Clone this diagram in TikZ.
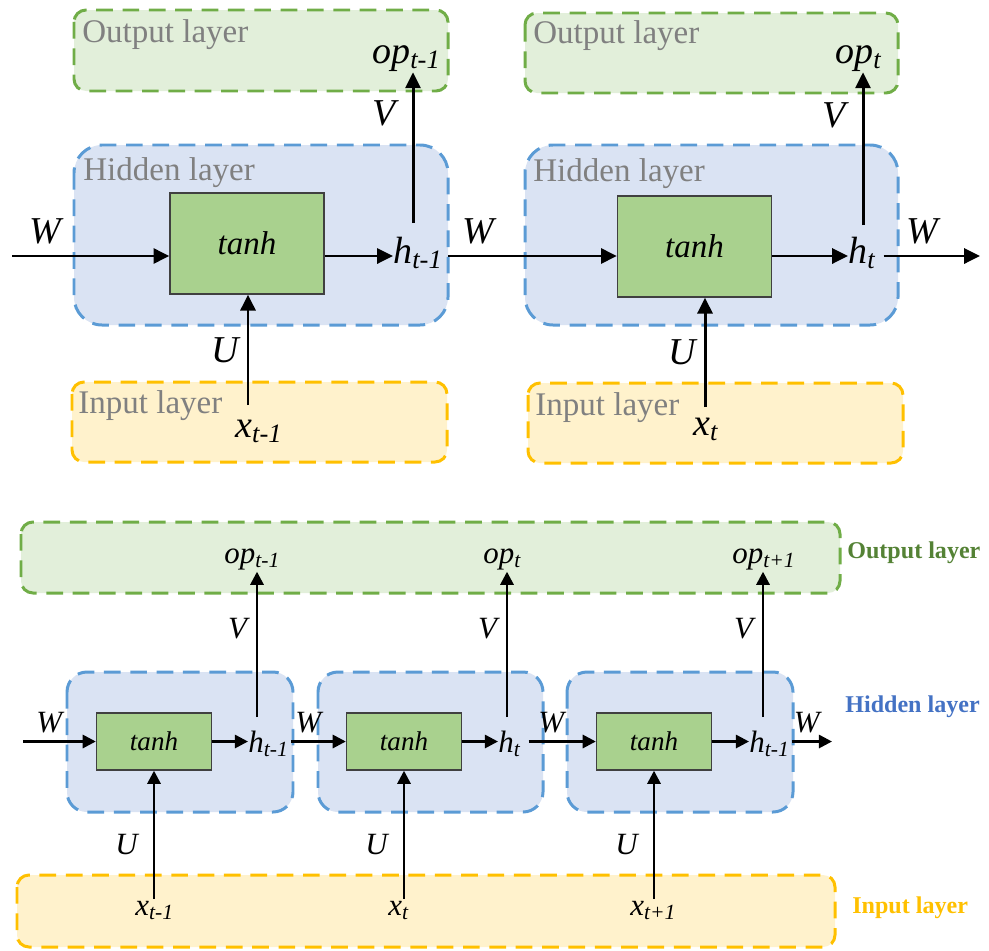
\documentclass[tikz,border=0pt]{standalone}
\usepackage{fontspec}
\setmainfont{Liberation Serif}
\usetikzlibrary{arrows.meta,positioning}
\definecolor{outfill}{HTML}{E2EFDA}
\definecolor{outdraw}{HTML}{70AD47}
\definecolor{hidfill}{HTML}{DAE3F3}
\definecolor{hiddraw}{HTML}{5B9BD5}
\definecolor{infill}{HTML}{FFF2CC}
\definecolor{indraw}{HTML}{FFC000}
\definecolor{tanhfill}{HTML}{A9D18E}
\definecolor{tanhdraw}{HTML}{404040}
\definecolor{graytxt}{HTML}{808080}
\definecolor{greentxt}{HTML}{548235}
\definecolor{bluetxt}{HTML}{4472C4}
\definecolor{yellowtxt}{HTML}{FFC000}
\newcommand\sub[2]{\textit{#1}\textsubscript{\textit{#2}}}
\newcommand\fs[1]{\fontsize{#1}{#1}\selectfont}
\begin{document}
\begin{tikzpicture}[x=0.02cm,y=-0.02cm,
  layer/.style={line width=1.7pt,dash pattern=on 9.5pt off 5.5pt},
  outlay/.style={layer,draw=outdraw,fill=outfill},
  hidlay/.style={layer,draw=hiddraw,fill=hidfill},
  inlay/.style={layer,draw=indraw,fill=infill},
  laytxt/.style={anchor=base west,text=graytxt,font=\fs{18.8},inner sep=0pt},
  boldtxt/.style={anchor=base west,font=\fs{13.7}\bfseries,inner sep=0pt},
  tanhbig/.style={draw=tanhdraw,fill=tanhfill,line width=0.8pt,minimum width=3.08cm,minimum height=2.02cm,font=\fs{18.8}\itshape,inner sep=0pt},
  tanhsmall/.style={draw=tanhdraw,fill=tanhfill,line width=0.8pt,minimum width=2.3cm,minimum height=1.14cm,font=\fs{15.4}\itshape,inner sep=0pt},
  var/.style={anchor=base west,font=\fs{21.6},inner xsep=0pt,inner ysep=0.5pt},
  svar/.style={anchor=base west,font=\fs{17.6},inner xsep=0pt,inner ysep=1pt},
  lbl/.style={font=\fs{21.6}\itshape,inner sep=1pt},
  slbl/.style={font=\fs{17.6}\itshape,inner sep=1pt},
  arr/.style={-{Triangle[length=9pt,width=8.5pt]},line width=1.7pt},
  arrs/.style={-{Triangle[length=7.5pt,width=7.5pt]},line width=1.5pt}]
\useasboundingbox (0,0) rectangle (989,950);
% top: two unrolled steps
\draw[outlay,rounded corners=0.24cm] (74,10) rectangle (448,91);
\draw[outlay,rounded corners=0.24cm] (525,13) rectangle (898,93);
\draw[hidlay,rounded corners=0.56cm] (74,145) rectangle (448,325);
\draw[hidlay,rounded corners=0.56cm] (525,145) rectangle (898,325);
\draw[inlay,rounded corners=0.24cm] (72,382) rectangle (447,462);
\draw[inlay,rounded corners=0.24cm] (528,383) rectangle (903,463);
\node[laytxt] (outA) at (82,42) {Output layer};
\node[laytxt] (outB) at (533,43) {Output layer};
\node[laytxt] (hidA) at (83,180) {Hidden layer};
\node[laytxt] (hidB) at (533,181) {Hidden layer};
\node[laytxt] (inA) at (78,413) {Input layer};
\node[laytxt] (inB) at (535,415) {Input layer};
\node[tanhbig] (tanhA) at (247,243.5) {tanh};
\node[tanhbig] (tanhB) at (694.5,246.5) {tanh};
\node[var] (hA) at (393,263) {\sub{h}{t-1}};
\node[var] (hB) at (848,263) {\sub{h}{t}};
\node[var] (opA) at (372,63) {\sub{op}{t-1}};
\node[var] (opB) at (835,63) {\sub{op}{t}};
\node[var] (xA) at (235,437) {\sub{x}{t-1}};
\node[var] (xB) at (693,435) {\sub{x}{t}};
\coordinate (wA) at (12,256);
\coordinate (wB) at (980,256);
\coordinate (vA) at (413,223);
\coordinate (vB) at (863,225);
\coordinate (uA) at (248,405);
\coordinate (uB) at (705,407);
\draw[arr] (wA) -- node[lbl,pos=.21,above=5pt]{W} (wA -| tanhA.west);
\draw[arr] (tanhA.east |- wA) -- (hA.west |- wA);
\draw[arr,shorten <=3pt] (hA.east |- wA) -- node[lbl,pos=.2,above=5pt]{W} (tanhB.west |- wA);
\draw[arr] (tanhB.east |- wA) -- (hB.west |- wA);
\draw[arr,shorten <=4pt] (hB.east |- wA) -- node[lbl,pos=.44,above=5pt]{W} (wB);
\draw[arr] (vA) -- node[lbl,pos=.73,left=8pt]{V} (vA |- opA.south);
\draw[arr] (vB) -- node[lbl,pos=.72,left=8pt]{V} (vB |- opB.south);
\draw[arr] (uA) -- node[lbl,pos=.5,left=3.5pt]{U} (uA |- tanhA.south);
\draw[arr] (uB) -- node[lbl,pos=.5,left=3.5pt]{U} (uB |- tanhB.south);
% bottom: three steps on shared layers
\draw[outlay,rounded corners=0.24cm] (21,522) rectangle (840,593);
\draw[hidlay,rounded corners=0.4cm] (67,672) rectangle (293,812);
\draw[hidlay,rounded corners=0.4cm] (318,672) rectangle (543,812);
\draw[hidlay,rounded corners=0.4cm] (567,672) rectangle (793,812);
\draw[inlay,rounded corners=0.24cm] (17,875) rectangle (835,947);
\node[boldtxt,text=greentxt] (outC) at (847,558) {Output layer};
\node[boldtxt,text=bluetxt] (hidC) at (845,712) {Hidden layer};
\node[boldtxt,text=yellowtxt] (inC) at (852,913) {Input layer};
\node[tanhsmall] (tanh1) at (154,741.5) {tanh};
\node[tanhsmall] (tanh2) at (404,741.5) {tanh};
\node[tanhsmall] (tanh3) at (654,741.5) {tanh};
\node[svar] (h1) at (248,752) {\sub{h}{t-1}};
\node[svar] (h2) at (498,752) {\sub{h}{t}};
\node[svar] (h3) at (749,752) {\sub{h}{t-1}};
\node[svar] (op1) at (224,563) {\sub{op}{t-1}};
\node[svar] (op2) at (483,563) {\sub{op}{t}};
\node[svar] (op3) at (732,563) {\sub{op}{t+1}};
\node[svar] (x1) at (135,915) {\sub{x}{t-1}};
\node[svar] (x2) at (388,915) {\sub{x}{t}};
\node[svar] (x3) at (630,915) {\sub{x}{t+1}};
\coordinate (w1) at (23,741.5);
\coordinate (w4) at (832,741.5);
\coordinate (v1) at (257,717);
\coordinate (v2) at (507,717);
\coordinate (v3) at (763,717);
\draw[arrs] (w1) -- node[slbl,pos=.36,above=3pt]{W} (tanh1.west);
\draw[arrs] (tanh1.east) -- (h1.west |- tanh1.east);
\draw[arrs,shorten <=1pt] (h1.east |- tanh1.east) -- node[slbl,pos=.34,above=3pt]{W} (tanh2.west);
\draw[arrs] (tanh2.east) -- (h2.west |- tanh2.east);
\draw[arrs,shorten <=4pt] (h2.east |- tanh2.east) -- node[slbl,pos=.4,above=3pt]{W} (tanh3.west);
\draw[arrs] (tanh3.east) -- (h3.west |- tanh3.east);
\draw[arrs,shorten <=1pt] (h3.east |- tanh3.east) -- node[slbl,pos=.4,above=3pt]{W} (w4);
\draw[arrs] (v1) -- node[slbl,pos=.61,left=4pt]{V} (v1 |- op1.south);
\draw[arrs] (v2) -- node[slbl,pos=.61,left=4pt]{V} (v2 |- op2.south);
\draw[arrs] (v3) -- node[slbl,pos=.61,left=4pt]{V} (v3 |- op3.south);
\draw[arrs] (tanh1.south |- x1.north) -- node[slbl,pos=.42,left=7.5pt]{U} (tanh1.south);
\draw[arrs] (tanh2.south |- x2.north) -- node[slbl,pos=.42,left=7.5pt]{U} (tanh2.south);
\draw[arrs] (tanh3.south |- x3.north) -- node[slbl,pos=.42,left=7.5pt]{U} (tanh3.south);
\end{tikzpicture}
\end{document}
